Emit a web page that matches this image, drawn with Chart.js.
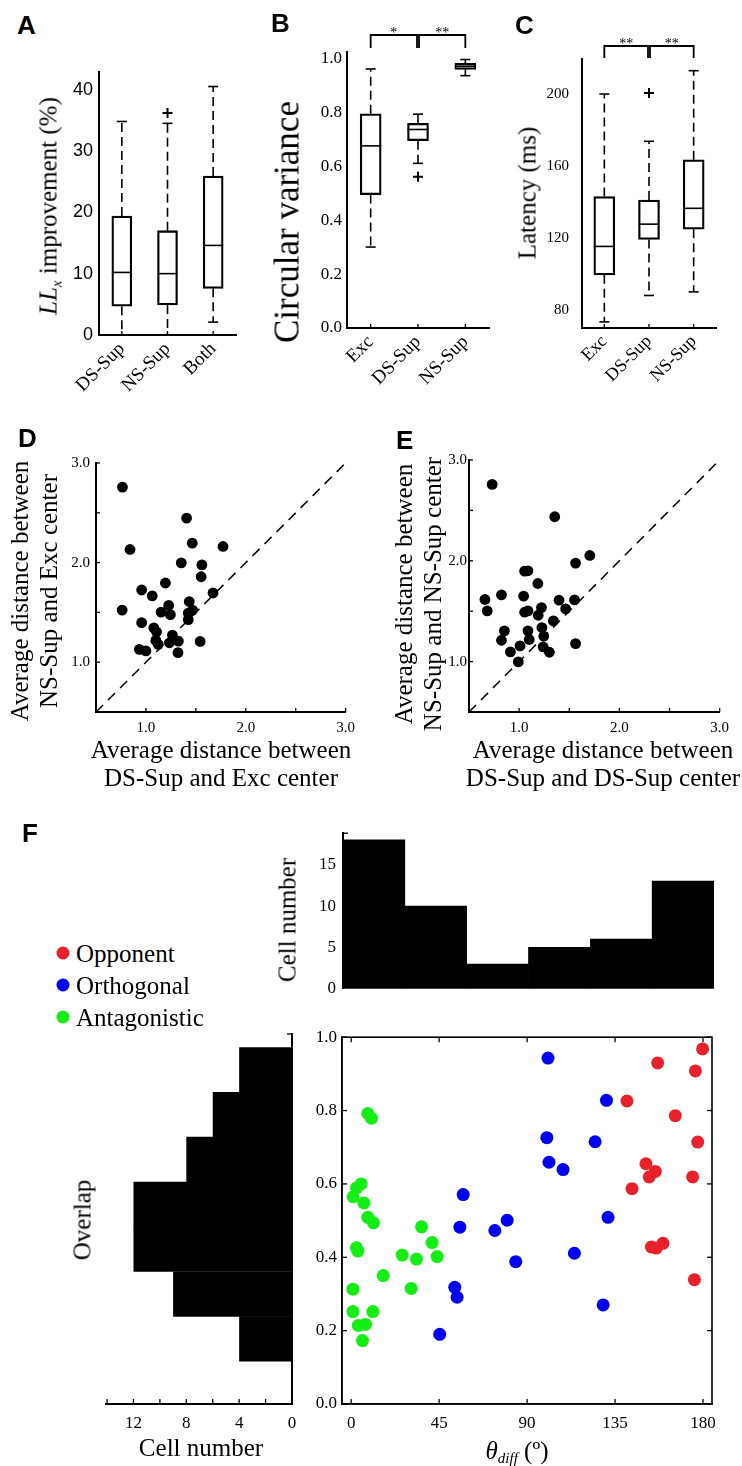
<!DOCTYPE html>
<html><head><meta charset="utf-8">
<script src="https://cdn.jsdelivr.net/npm/chart.js@4.4.1/dist/chart.umd.min.js"></script>
<style>
html,body{margin:0;padding:0;background:#fff;}
body{width:742px;height:1466px;position:relative;overflow:hidden;font-family:'Liberation Serif','Times New Roman',serif;color:#000;}
.lbl{position:absolute;white-space:nowrap;line-height:1;}
.rot{transform:translate(-50%,-50%) rotate(-90deg);}
.ctr{transform:translate(-50%,-50%);}
.pl{position:absolute;font:bold 26px 'Liberation Sans',Arial,sans-serif;line-height:1;}
sub{font-size:0.6em;vertical-align:-0.3em;line-height:0;font-style:italic;}
.dot{position:absolute;width:13px;height:13px;border-radius:50%;transform:translate(-50%,-50%);}
</style></head><body>

<div class="pl" style="left:17px;top:12px">A</div>
<div class="pl" style="left:271px;top:10px">B</div>
<div class="pl" style="left:515px;top:12px">C</div>
<div class="pl" style="left:18px;top:425px">D</div>
<div class="pl" style="left:396px;top:427px">E</div>
<div class="pl" style="left:22px;top:820px">F</div>

<div class="lbl rot" style="left:48px;top:206px;font-size:25px"><i>LL</i><sub>x</sub> improvement (%)</div>
<div class="lbl rot" style="left:287px;top:222px;font-size:35px">Circular variance</div>
<div class="lbl rot" style="left:527px;top:193px;font-size:25px">Latency (ms)</div>

<div class="lbl rot" style="left:34px;top:591px;font-size:25px;line-height:29px;text-align:center">Average distance between<br>NS-Sup and Exc center</div>
<div class="lbl ctr" style="left:221px;top:764px;font-size:25px;line-height:28px;text-align:center">Average distance between<br>DS-Sup and Exc center</div>
<div class="lbl rot" style="left:418px;top:594px;font-size:25px;line-height:29px;text-align:center">Average distance between<br>NS-Sup and NS-Sup center</div>
<div class="lbl ctr" style="left:603px;top:764px;font-size:25px;line-height:28px;text-align:center">Average distance between<br>DS-Sup and DS-Sup center</div>

<div class="dot" style="left:63px;top:953px;background:#e8212a"></div>
<div class="dot" style="left:63px;top:985px;background:#0000f0"></div>
<div class="dot" style="left:63px;top:1017px;background:#14ee14"></div>
<div class="lbl" style="left:76px;top:941px;font-size:25px">Opponent</div>
<div class="lbl" style="left:76px;top:973px;font-size:25px">Orthogonal</div>
<div class="lbl" style="left:76px;top:1005px;font-size:25px">Antagonistic</div>

<div class="lbl rot" style="left:287px;top:920px;font-size:25px">Cell number</div>
<div class="lbl rot" style="left:82px;top:1220px;font-size:25px">Overlap</div>
<div class="lbl ctr" style="left:201px;top:1447px;font-size:25px">Cell number</div>
<div class="lbl ctr" style="left:517px;top:1450px;font-size:25px"><i>θ</i><sub>diff</sub> (º)</div>

<script>
// ---------------- DATA ----------------
// Panel A
const catsA = ['DS-Sup', 'NS-Sup', 'Both'];
const minA = [0, 0, 2.1];
const q1A = [4.7, 4.9, 7.6];
const medA = [10.2, 10.0, 14.6];
const q3A = [19.4, 17.0, 25.9];
const maxA = [34.8, 34.5, 40.5];
const outA = [null, 36.2, null];
const ticksA = [0, 10, 20, 30, 40];

// Panel B
const catsB = ['Exc', 'DS-Sup', 'NS-Sup'];
const minB = [0.301, 0.612, 0.938];
const q1B = [0.496, 0.696, 0.961];
const medB = [0.677, 0.738, 0.973];
const q3B = [0.796, 0.761, 0.984];
const maxB = [0.963, 0.795, 0.998];
const outB = [null, 0.562, null];
const ticksB = [0, 0.2, 0.4, 0.6, 0.8, 1.0];
const sigB = [{from: 0, to: 1, text: '*'}, {from: 1, to: 2, text: '**'}];

// Panel C
const catsC = ['Exc', 'DS-Sup', 'NS-Sup'];
const minC = [73.2, 87.9, 89.9];
const q1C = [99.4, 119.1, 124.8];
const medC = [115.2, 127.6, 136.4];
const q3C = [143.0, 141.0, 163.4];
const maxC = [200.0, 173.7, 213.0];
const outC = [null, 200.6, null];
const ticksC = [80, 120, 160, 200];
const sigC = [{from: 0, to: 1, text: '**'}, {from: 1, to: 2, text: '**'}];

// Panel D
const dX = [0.765, 0.841, 0.762, 0.957, 0.957, 0.934, 1.000, 1.063, 1.079, 1.106, 1.099, 1.123, 1.152, 1.195, 1.228, 1.245,
            1.235, 1.265, 1.321, 1.325, 1.354, 1.407, 1.434, 1.424, 1.424, 1.467, 1.464, 1.560, 1.553, 1.543, 1.672, 1.772];
const dY = [2.758, 2.132, 1.523, 1.725, 1.397, 1.129, 1.113, 1.666, 1.344, 1.305, 1.219, 1.179, 1.503, 1.795, 1.570, 1.477,
            1.195, 1.272, 1.096, 1.212, 1.997, 2.447, 1.609, 1.427, 1.493, 1.523, 2.195, 1.977, 1.858, 1.209, 1.695, 2.162];
// Panel E
const eX = [0.731, 1.355, 1.705, 1.563, 1.055, 1.088, 1.187, 0.659, 0.824, 1.045, 0.682, 1.055, 1.088, 1.223, 1.190, 1.398,
            1.464, 1.553, 1.342, 0.853, 0.824, 0.913, 1.009, 0.992, 1.088, 1.101, 1.227, 1.246, 1.240, 1.302, 1.563];
const eY = [2.758, 2.437, 2.053, 1.977, 1.897, 1.901, 1.775, 1.616, 1.662, 1.649, 1.503, 1.490, 1.503, 1.536, 1.460, 1.609,
            1.523, 1.613, 1.404, 1.305, 1.212, 1.096, 1.156, 0.997, 1.305, 1.219, 1.338, 1.252, 1.146, 1.093, 1.179];
const unityLine = [0.5, 3.0];
const ticksDE = [0.5, 1.0, 1.5, 2.0, 2.5, 3.0];
const tickLabelsDE = ['', '1.0', '', '2.0', '', '3.0'];

// Panel F
const thetaBins = ['b1', 'b2', 'b3', 'b4', 'b5', 'b6'];
const thetaCounts = [18, 10, 3, 5, 6, 13];
const ticksTop = [0, 5, 10, 15];
const overlapBins = [0.176, 0.2972, 0.4184, 0.5396, 0.6608, 0.782, 0.9032];
const overlapCounts = [4, 9, 12, 12, 8, 6, 4];
const ticksLeft = [0, 2, 4, 6, 8, 10, 12, 14];
const tickLabelsLeft = ['0', '', '4', '', '8', '', '12', ''];
const ticksFx = [0, 45, 90, 135, 180];
const ticksFy = [0, 0.2, 0.4, 0.6, 0.8, 1.0];

const oppX = [179.8, 156.8, 176.1, 141.1, 165.8, 177.3, 150.8, 155.6, 152.5, 174.7, 143.7, 153.6, 156.1, 159.5, 175.6];
const oppY = [0.968, 0.930, 0.908, 0.826, 0.786, 0.714, 0.655, 0.634, 0.619, 0.619, 0.587, 0.428, 0.425, 0.438, 0.339];
const ortX = [100.7, 130.6, 100.1, 124.8, 101.2, 108.4, 57.3, 55.6, 73.5, 79.8, 131.4, 84.2, 114.2, 53.0, 54.2, 128.9, 45.3];
const ortY = [0.943, 0.828, 0.726, 0.715, 0.659, 0.639, 0.571, 0.482, 0.473, 0.501, 0.509, 0.388, 0.411, 0.318, 0.291, 0.270, 0.190];
const antX = [8.5, 10.4, 5.1, 2.7, 1.0, 6.5, 8.5, 11.4, 2.7, 3.4, 26.1, 33.4, 36.0, 41.4, 44.0, 16.4, 0.9, 30.7, 0.9, 11.1, 3.6, 7.3, 5.8];
const antY = [0.792, 0.779, 0.600, 0.589, 0.565, 0.548, 0.509, 0.494, 0.426, 0.417, 0.406, 0.395, 0.483, 0.440, 0.402, 0.350, 0.313, 0.315, 0.252, 0.252, 0.214, 0.217, 0.173];

// ---------------- SETUP ----------------
const SERIF = "'Liberation Serif','Times New Roman',serif";
const SANS = "'Liberation Sans',Arial,sans-serif";
Chart.defaults.color = '#000';
Chart.defaults.font.family = SERIF;
Chart.defaults.animation = false;
Chart.defaults.events = [];
Chart.defaults.plugins.legend.display = false;
Chart.defaults.plugins.tooltip.enabled = false;

const AX = 2; // axis line width

function makeCanvas(area, pad) {
  const c = document.createElement('canvas');
  const w = Math.round(area.r - area.l + pad.l + pad.r), h = Math.round(area.b - area.t + pad.t + pad.b);
  c.width = w; c.height = h;
  c.style.cssText = 'position:absolute;left:' + (area.l - pad.l) + 'px;top:' + (area.t - pad.t) + 'px;width:' + w + 'px;height:' + h + 'px';
  document.body.insertBefore(c, document.body.firstChild);
  return c;
}
const fitW = w => s => { s.width = w; };
const fitH = h => s => { s.height = h; };
const setTicks = arr => s => { s.ticks = arr.map(v => ({value: v})); };
const pts = (xs, ys) => xs.map((x, i) => ({x: x, y: ys[i]}));

// inward tick marks (closure config)
function inTicks(list, width) {
  return {
    id: 'inTicks',
    afterDraw(chart) {
      const ctx = chart.ctx, a = chart.chartArea;
      ctx.save(); ctx.strokeStyle = '#000'; ctx.lineWidth = width || 1.3;
      for (const t of list) {
        const s = chart.scales[t.scale];
        const ps = Array.isArray(t.vals) ? t.vals.map(v => s.getPixelForValue(v)) : s.ticks.map((_, i) => s.getPixelForTick(i));
        for (const p of ps) {
          ctx.beginPath();
          if (t.side === 'bottom') { ctx.moveTo(p, a.bottom); ctx.lineTo(p, a.bottom - t.len); }
          if (t.side === 'top') { ctx.moveTo(p, a.top); ctx.lineTo(p, a.top + t.len); }
          if (t.side === 'left') { ctx.moveTo(a.left, p); ctx.lineTo(a.left + t.len, p); }
          if (t.side === 'right') { ctx.moveTo(a.right, p); ctx.lineTo(a.right - t.len, p); }
          ctx.stroke();
        }
      }
      ctx.restore();
    }
  };
}

// whiskers, caps and medians of box plots
function boxWhisk(o) {
  return {
    id: 'boxWhisk',
    afterDatasetsDraw(chart) {
      const ctx = chart.ctx, x = chart.scales.x, y = chart.scales.y;
      const seg = (x1, y1, x2, y2) => { ctx.beginPath(); ctx.moveTo(x1, y1); ctx.lineTo(x2, y2); ctx.stroke(); };
      ctx.save(); ctx.strokeStyle = '#000'; ctx.lineWidth = o.lw;
      o.min.forEach((mn, i) => {
        const cx = x.getPixelForValue(i);
        const yMin = y.getPixelForValue(mn), yQ1 = y.getPixelForValue(o.q1[i]), yMed = y.getPixelForValue(o.med[i]);
        const yQ3 = y.getPixelForValue(o.q3[i]), yMax = y.getPixelForValue(o.max[i]);
        ctx.setLineDash(o.dash);
        seg(cx, yQ3, cx, yMax); seg(cx, yQ1, cx, yMin);
        ctx.setLineDash([]);
        seg(cx - o.cap, yMax, cx + o.cap, yMax); seg(cx - o.cap, yMin, cx + o.cap, yMin);
        seg(cx - o.box / 2, yMed, cx + o.box / 2, yMed);
      });
      ctx.restore();
    }
  };
}

// significance brackets
function brackets(o) {
  return {
    id: 'brackets',
    afterDraw(chart) {
      if (!o || !o.list) return;
      const ctx = chart.ctx, x = chart.scales.x, top = chart.chartArea.top;
      ctx.save(); ctx.strokeStyle = '#000'; ctx.fillStyle = '#000'; ctx.lineWidth = o.lw;
      ctx.font = o.font; ctx.textAlign = 'center'; ctx.textBaseline = 'alphabetic';
      const yTop = top - o.rise, yLeg = yTop + o.leg;
      const n = x.ticks.length;
      for (const b of o.list) {
        const x1 = x.getPixelForValue(b.from) + (b.from > 0 ? o.gap : 0);
        const x2 = x.getPixelForValue(b.to) - (b.to < n - 1 ? o.gap : 0);
        ctx.beginPath(); ctx.moveTo(x1, yLeg); ctx.lineTo(x1, yTop); ctx.lineTo(x2, yTop); ctx.lineTo(x2, yLeg); ctx.stroke();
        ctx.fillText(b.text, (x1 + x2) / 2, yTop + o.textDy);
      }
      ctx.restore();
    }
  };
}

// frame around the plot area
function frame(lw) {
  return {
    id: 'frame',
    afterDraw(chart) {
      const a = chart.chartArea, ctx = chart.ctx;
      ctx.save(); ctx.strokeStyle = '#000'; ctx.lineWidth = lw;
      ctx.strokeRect(a.left, a.top, a.right - a.left, a.bottom - a.top);
      ctx.restore();
    }
  };
}

function boxChart(area, pad, cats, st, ymin, ymax, yTicks, yTickFmt, yFont, yPad, xFont, br) {
  return new Chart(makeCanvas(area, pad), {
    type: 'bar',
    data: {labels: cats, datasets: [
      {data: st.q1.map((v, i) => [v, st.q3[i]]), backgroundColor: 'rgba(255,255,255,0)', borderColor: '#000',
       borderWidth: 1.6, borderSkipped: false, barThickness: st.box, order: 2},
      {type: 'line', data: st.out, showLine: false, pointStyle: 'cross', pointRadius: 5, pointBorderWidth: 2,
       borderColor: '#000', order: 1}
    ]},
    options: {
      responsive: false,
      layout: {padding: {top: pad.t, right: pad.r, left: 0, bottom: 0}},
      scales: {
        x: {grid: {display: false, drawTicks: false}, border: {color: '#000', width: AX},
            ticks: {autoSkip: false, maxRotation: 45, minRotation: 45, font: {size: xFont}, padding: 3},
            afterFit: fitH(pad.b)},
        y: {min: ymin, max: ymax, afterBuildTicks: setTicks(yTicks), grid: {display: false, drawTicks: false},
            border: {color: '#000', width: AX}, ticks: {font: yFont, padding: yPad, callback: yTickFmt},
            afterFit: fitW(pad.l)}
      }
    },
    plugins: [
      boxWhisk({min: st.min, q1: st.q1, med: st.med, q3: st.q3, max: st.max, box: st.box, cap: 5, dash: [9, 5], lw: 1.6}),
      inTicks([{scale: 'x', side: 'bottom', len: 4}]),
      brackets(br)
    ]
  });
}

// ---------------- A ----------------
boxChart({l: 99, t: 65, r: 236, b: 335}, {l: 99, t: 10, r: 12, b: 70}, catsA,
  {min: minA, q1: q1A, med: medA, q3: q3A, max: maxA, out: outA, box: 20},
  0, 42.9, ticksA, v => String(v), {family: SANS, size: 18}, 6, 19, null);

// ---------------- B ----------------
boxChart({l: 347, t: 52, r: 489, b: 328}, {l: 100, t: 42, r: 12, b: 70}, catsB,
  {min: minB, q1: q1B, med: medB, q3: q3B, max: maxB, out: outB, box: 21},
  0, 1.026, ticksB, v => v.toFixed(1), {size: 17}, 5, 19,
  {list: sigB, rise: 17, leg: 13, gap: 1, lw: 1.8, font: '14px ' + SERIF, textDy: 2});

// ---------------- C ----------------
boxChart({l: 582, t: 59, r: 716, b: 328}, {l: 82, t: 42, r: 20, b: 70}, catsC,
  {min: minC, q1: q1C, med: medC, q3: q3C, max: maxC, out: outC, box: 21},
  69.8, 219.5, ticksC, v => String(v), {size: 15}, 13, 18,
  {list: sigC, rise: 13, leg: 12, gap: 1, lw: 1.8, font: '14px ' + SERIF, textDy: 2});

// ---------------- D / E ----------------
function distChart(area, pad, xs, ys, yPad) {
  return new Chart(makeCanvas(area, pad), {
    type: 'scatter',
    data: {datasets: [
      {data: pts(xs, ys), backgroundColor: '#000', borderColor: '#000', pointRadius: 5.4, pointBorderWidth: 0, order: 1},
      {type: 'line', data: pts(unityLine, unityLine), borderColor: '#000', borderWidth: 1.5, borderDash: [10, 7],
       pointRadius: 0, order: 2}
    ]},
    options: {
      responsive: false,
      layout: {padding: {top: pad.t, right: pad.r, left: 0, bottom: 0}},
      scales: {
        x: {type: 'linear', min: 0.5, max: 3.0, afterBuildTicks: setTicks(ticksDE), grid: {display: false, drawTicks: false},
            border: {color: '#000', width: AX}, ticks: {font: {size: 15}, padding: 7, callback: (v, i) => tickLabelsDE[i]},
            afterFit: fitH(pad.b)},
        y: {type: 'linear', min: 0.5, max: 3.0, afterBuildTicks: setTicks(ticksDE), grid: {display: false, drawTicks: false},
            border: {color: '#000', width: AX}, ticks: {font: {size: 15}, padding: yPad, callback: (v, i) => tickLabelsDE[i]},
            afterFit: fitW(pad.l)}
      }
    },
    plugins: [inTicks([{scale: 'x', side: 'bottom', len: 4}, {scale: 'y', side: 'left', len: 4}])]
  });
}
distChart({l: 96, t: 460, r: 348, b: 712}, {l: 96, t: 12, r: 14, b: 28}, dX, dY, 6);
distChart({l: 469, t: 460, r: 722, b: 712}, {l: 70, t: 12, r: 14, b: 28}, eX, eY, 2);

// ---------------- F: top histogram ----------------
(function () {
  const area = {l: 343, t: 828, r: 714, b: 1002}, pad = {l: 50, t: 12, r: 10, b: 4};
  new Chart(makeCanvas(area, pad), {
    type: 'bar',
    data: {labels: thetaBins, datasets: [{data: thetaCounts, backgroundColor: '#000', borderWidth: 0,
      barPercentage: 1.0, categoryPercentage: 1.0}]},
    options: {
      responsive: false,
      layout: {padding: {top: pad.t, right: pad.r, left: 0, bottom: 0}},
      scales: {
        x: {grid: {display: false, drawTicks: false}, border: {display: false}, ticks: {display: false}, afterFit: fitH(pad.b)},
        y: {min: 0, max: 18.8, afterBuildTicks: setTicks(ticksTop), grid: {display: false, drawTicks: false},
            border: {color: '#000', width: AX}, ticks: {font: {size: 17}, padding: 7}, afterFit: fitW(pad.l)}
      }
    },
    plugins: [inTicks([{scale: 'y', side: 'left', len: 5, vals: [18.8]}])]
  });
})();

// ---------------- F: left histogram ----------------
(function () {
  const area = {l: 106, t: 1034, r: 292, b: 1404}, pad = {l: 16, t: 12, r: 10, b: 34};
  new Chart(makeCanvas(area, pad), {
    type: 'bar',
    data: {datasets: [{data: overlapBins.map((c, i) => ({x: overlapCounts[i], y: c})), backgroundColor: '#000',
      borderWidth: 0, barPercentage: 1.01, categoryPercentage: 1.0}]},
    options: {
      indexAxis: 'y',
      responsive: false,
      layout: {padding: {top: pad.t, right: 0, left: pad.l, bottom: 0}},
      scales: {
        x: {type: 'linear', reverse: true, min: 0, max: 14.08, afterBuildTicks: setTicks(ticksLeft),
            grid: {display: false, drawTicks: false}, border: {color: '#000', width: AX},
            ticks: {font: {size: 17}, padding: 9, callback: (v, i) => tickLabelsLeft[i]}, afterFit: fitH(pad.b)},
        y: {type: 'linear', position: 'right', offset: false, min: 0, max: 1.0, afterBuildTicks: setTicks([1.0]),
            grid: {display: false, drawTicks: false, offset: false}, border: {color: '#000', width: AX},
            ticks: {display: false}, afterFit: fitW(pad.r)}
      }
    },
    plugins: [inTicks([{scale: 'x', side: 'bottom', len: 5}, {scale: 'y', side: 'right', len: 5}])]
  });
})();

// ---------------- F: scatter ----------------
(function () {
  const area = {l: 342, t: 1034, r: 712, b: 1404}, pad = {l: 45, t: 12, r: 14, b: 34};
  const ds = (xs, ys, col) => ({data: pts(xs, ys), backgroundColor: col, borderColor: col, pointRadius: 6.5, pointBorderWidth: 0});
  new Chart(makeCanvas(area, pad), {
    type: 'scatter',
    data: {datasets: [ds(antX, antY, '#14ee14'), ds(ortX, ortY, '#0000f0'), ds(oppX, oppY, '#e8212a')]},
    options: {
      responsive: false,
      layout: {padding: {top: pad.t, right: pad.r, left: 0, bottom: 0}},
      scales: {
        x: {type: 'linear', min: -4.7, max: 184.6, afterBuildTicks: setTicks(ticksFx), grid: {display: false, drawTicks: false},
            border: {color: '#000', width: 1.6}, ticks: {font: {size: 17}, padding: 9, callback: v => String(v)},
            afterFit: fitH(pad.b)},
        y: {type: 'linear', min: 0, max: 1.0, afterBuildTicks: setTicks(ticksFy), grid: {display: false, drawTicks: false},
            border: {color: '#000', width: 1.6}, ticks: {font: {size: 17}, padding: 5, callback: v => v.toFixed(1)},
            afterFit: fitW(pad.l)}
      }
    },
    plugins: [frame(1.6), inTicks([{scale: 'x', side: 'bottom', len: 5}, {scale: 'x', side: 'top', len: 5},
                                   {scale: 'y', side: 'left', len: 5}, {scale: 'y', side: 'right', len: 5}])]
  });
})();
</script>
</body></html>
